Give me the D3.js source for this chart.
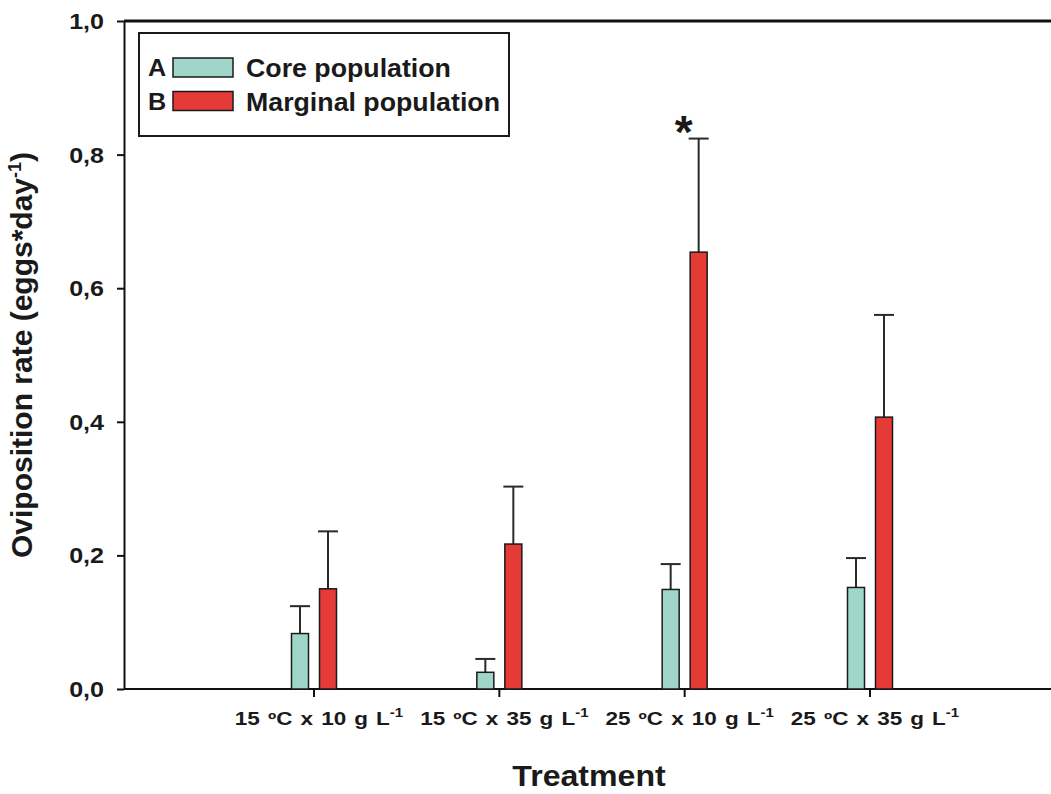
<!DOCTYPE html>
<html>
<head>
<meta charset="utf-8">
<script src="https://cdn.jsdelivr.net/npm/d3@7"></script>
<style>
  body { margin: 0; background: #fff; }
  svg { display: block; font-family: "Liberation Sans", Arial, sans-serif; font-weight: bold; }
</style>
</head>
<body>
<svg id="chart" width="1051" height="794"></svg>
<script>
// data
const treatments = ['15 ºC x 10 g L', '15 ºC x 35 g L', '25 ºC x 10 g L', '25 ºC x 35 g L'];
const coreMean = [0.083, 0.025, 0.149, 0.152];
const coreErr = [0.041, 0.020, 0.038, 0.044];
const marginalMean = [0.150, 0.217, 0.654, 0.407];
const marginalErr = [0.086, 0.086, 0.170, 0.153];
const yTicks = [0, 0.2, 0.4, 0.6, 0.8, 1.0];
const seriesNames = ['Core population', 'Marginal population'];
const seriesLetters = ['A', 'B'];
const significant = [false, false, true, false];

const svg = d3.select('#chart');

// plot area
const plotLeft = 124, plotRight = 1051, plotTop = 21, plotBottom = 689;

const y = d3.scaleLinear().domain([0, 1]).range([plotBottom, plotTop]);
const x = d3.scalePoint().domain(treatments).range([314, 870]);

const colors = ['#a0d6c9', '#e53a36'];
const barW = 17, barOff = 14;

const locale = d3.formatLocale({decimal: ',', thousands: '.', grouping: [3], currency: ['', '']});
const fmt = locale.format('.1f');

// text in the figure is a bit wider than Liberation Sans, so stretch it sideways
function wideText(parent, px, py, sx) {
  return parent.append('text')
    .attr('transform', `translate(${px},${py}) scale(${sx},1)`)
    .attr('fill', '#1a1a1a');
}

// top frame line
svg.append('line')
  .attr('x1', plotLeft).attr('x2', plotRight)
  .attr('y1', plotTop).attr('y2', plotTop)
  .attr('stroke', '#111').attr('stroke-width', 3);

// Y AXIS
const yAxis = d3.axisLeft(y)
  .tickValues(yTicks)
  .tickFormat('')
  .tickSizeInner(7)
  .tickSizeOuter(0);

const gy = svg.append('g')
  .attr('transform', `translate(${plotLeft},0)`)
  .call(yAxis);
gy.select('.domain').attr('stroke', '#111').attr('stroke-width', 2);
gy.selectAll('.tick line').attr('stroke', '#111').attr('stroke-width', 2);

yTicks.forEach(v => {
  wideText(svg, plotLeft - 20, y(v) + 8, 1.14)
    .attr('text-anchor', 'end')
    .attr('font-size', 22)
    .text(fmt(v));
});

// X AXIS
svg.append('line')
  .attr('x1', plotLeft).attr('x2', plotRight)
  .attr('y1', plotBottom).attr('y2', plotBottom)
  .attr('stroke', '#111').attr('stroke-width', 2);

const gx = svg.append('g').attr('class', 'x axis');
treatments.forEach(t => {
  gx.append('line')
    .attr('x1', x(t)).attr('x2', x(t))
    .attr('y1', plotBottom).attr('y2', plotBottom + 8)
    .attr('stroke', '#111').attr('stroke-width', 2);
  const lbl = wideText(gx, x(t) + 5, 725, 1.25)
    .attr('text-anchor', 'middle')
    .attr('font-size', 18)
    .attr('word-spacing', 1.5);
  lbl.append('tspan').text(t);
  lbl.append('tspan').attr('dy', -8).attr('font-size', 12).text('-1');
});

// BARS
const groups = svg.selectAll('.group')
  .data(treatments)
  .enter()
  .append('g')
  .attr('class', 'group');

const series = [
  {mean: coreMean, err: coreErr, off: -barOff},
  {mean: marginalMean, err: marginalErr, off: barOff}
];

series.forEach((s, si) => {
  groups.each(function(t, i) {
    const g = d3.select(this);
    const cx = x(t) + s.off;
    // error bar (upper only)
    g.append('line')
      .attr('x1', cx).attr('x2', cx)
      .attr('y1', y(s.mean[i])).attr('y2', y(s.mean[i] + s.err[i]))
      .attr('stroke', '#2a2a2a').attr('stroke-width', 2);
    g.append('line')
      .attr('x1', cx - 10).attr('x2', cx + 10)
      .attr('y1', y(s.mean[i] + s.err[i])).attr('y2', y(s.mean[i] + s.err[i]))
      .attr('stroke', '#2a2a2a').attr('stroke-width', 2);
    g.append('rect')
      .attr('x', cx - barW / 2)
      .attr('y', y(s.mean[i]))
      .attr('width', barW)
      .attr('height', plotBottom - y(s.mean[i]))
      .attr('fill', colors[si])
      .attr('stroke', '#1a1a1a').attr('stroke-width', 1.5);
  });
});

// significance mark
treatments.forEach((t, i) => {
  if (!significant[i]) return;
  svg.append('text')
    .attr('x', x(t) - 1)
    .attr('y', y(marginalMean[i] + marginalErr[i]) + 9)
    .attr('text-anchor', 'middle')
    .attr('font-size', 46)
    .attr('fill', '#1a1a1a')
    .text('*');
});

// LEGEND
const legend = svg.append('g');
legend.append('rect')
  .attr('x', 139).attr('y', 33).attr('width', 370).attr('height', 103)
  .attr('fill', '#fff').attr('stroke', '#1a1a1a').attr('stroke-width', 2);

seriesNames.forEach((name, i) => {
  const row = legend.append('g').attr('transform', `translate(0,${58 + i * 33.5})`);
  wideText(row, 148, 18, 1.05).attr('font-size', 24).text(seriesLetters[i]);
  row.append('rect').attr('x', 173).attr('y', 0).attr('width', 60).attr('height', 19)
    .attr('fill', colors[i]).attr('stroke', '#1a1a1a').attr('stroke-width', 1.5);
  wideText(row, 246, 19, 1.07).attr('font-size', 25).text(name);
});

// AXIS TITLES
const yt = svg.append('text')
  .attr('transform', `translate(32,${(plotTop + plotBottom) / 2}) rotate(-90)`)
  .attr('text-anchor', 'middle')
  .attr('font-size', 30)
  .attr('fill', '#1a1a1a');
yt.append('tspan').text('Oviposition rate (eggs*day');
yt.append('tspan').attr('dy', -11).attr('font-size', 18).text('-1');
yt.append('tspan').attr('dy', 11).text(')');

wideText(svg, 589, 786, 1.07)
  .attr('text-anchor', 'middle')
  .attr('font-size', 30)
  .text('Treatment');
</script>
</body>
</html>
